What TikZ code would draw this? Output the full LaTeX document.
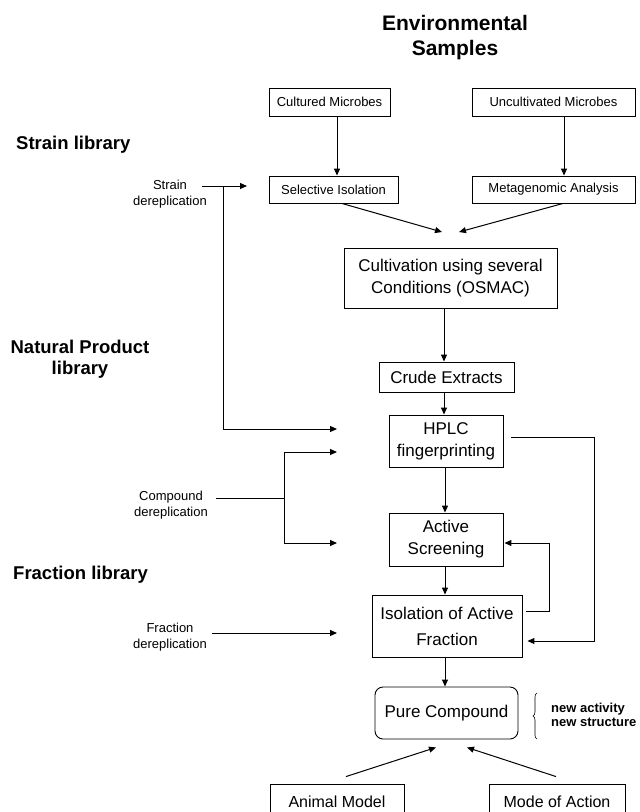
\documentclass[tikz,border=0pt]{standalone}
\usepackage{fontspec}
\setmainfont{Liberation Sans}
\usetikzlibrary{arrows.meta,decorations.pathreplacing,calc}
\newcommand{\fntttl}{\fontsize{21}{25}\selectfont\bfseries}
\newcommand{\fntlab}{\fontsize{18.5}{21}\selectfont\bfseries}
\newcommand{\fntsm}{\fontsize{13}{16}\selectfont}
\newcommand{\fntbig}{\fontsize{17}{22}\selectfont}
\newcommand{\fntmid}{\fontsize{16}{20}\selectfont}
\newcommand{\fntnote}{\fontsize{13}{14}\selectfont\bfseries}

\begin{document}
\begin{tikzpicture}[x=1pt,y=-1pt,>={Triangle[length=7pt,width=6pt]},
    box/.style={draw=black,line width=0.9pt,align=center},
    flow/.style={->,line width=1pt}]
                  \tikzstyle{every node}+=[inner sep=0pt]
                  \useasboundingbox (0,0) rectangle (640,812);
                  \clip (0,0) rectangle (640,812);
                  \node[font=\fntttl,align=center] (title) at (455,37.5) {Environmental\\Samples};
                  \node[font=\fntlab,anchor=west] (strlib) at (16,145) {Strain library};
                  \node[font=\fntlab,align=center] (nplib) at (80,359.5) {Natural Product\\library};
                  \node[font=\fntlab,anchor=west] (frlib) at (13,575) {Fraction library};
                  \node[font=\fntsm,align=center] (strder) at (170,194) {Strain\\dereplication};
                  \node[font=\fntsm,align=center] (cmpder) at (171,505) {Compound\\dereplication};
                  \node[font=\fntsm,align=center] (frder) at (170,637) {Fraction\\dereplication};
                  \node[box,font=\fntsm,minimum width=121,minimum height=28] (cult) at (329.5,102) {Cultured Microbes};
                  \node[box,font=\fntsm,minimum width=163,minimum height=28] (uncult) at (553.5,102) {Uncultivated Microbes};
                  \node[box,font=\fntsm,minimum width=129,minimum height=27] (sel) at (333.5,189.5) {Selective Isolation};
                  \node[box,font=\fntsm,minimum width=163,minimum height=27] (meta) at (553.5,189.5) {Metagenomic Analysis};
                  \node[box,font=\fntbig,minimum width=213,minimum height=60] (cultiv) at (450.5,278) {Cultivation using several\\Conditions (OSMAC)};
                  \node[box,font=\fntbig,minimum width=135,minimum height=30] (crude) at (446.5,377) {Crude Extracts};
                  \node[box,font=\fntbig,minimum width=114,minimum height=52] (hplc) at (446,441) {HPLC\\fingerprinting};
                  \node[box,font=\fntbig,minimum width=114,minimum height=53] (screen) at (446,539.5) {Active\\Screening};
                  \node[box,font=\fntbig,minimum width=150,minimum height=62] (isol) at (447,626) {Isolation of Active\\[4pt]Fraction};
                  \node[box,font=\fntbig,rounded corners=8pt,minimum width=143,minimum height=52] (pure) at (446.5,713) {Pure Compound};
                  \node[box,font=\fntmid,minimum width=134,minimum height=36] (animal) at (337,802) {Animal Model};
                  \node[box,font=\fntmid,minimum width=136,minimum height=36] (mode) at (557,802) {Mode of Action};
                  \node[font=\fntnote,align=left,anchor=west] (newinfo) at (551,715) {new activity\\new structure};
                  \draw[line width=0.6pt,decorate,decoration={brace,amplitude=4pt}] ($(newinfo.west)+(-14,24)$) -- ($(newinfo.west)+(-14,-22)$);
                  \draw[flow] ([xshift=7.5]cult.south) -- ([xshift=3.5]sel.north);
                  \draw[flow] ([xshift=10.5]uncult.south) -- ([xshift=10.5]meta.north);
                  \coordinate (jl) at (442,232);
                  \coordinate (jr) at (459,232);
                  \draw[flow] ([xshift=8.5]sel.south) -- (jl);
                  \draw[flow] ([xshift=9.5]meta.south) -- (jr);
                  \draw[flow] ([xshift=-6.5]cultiv.south) -- ([xshift=-2.5]crude.north);
                  \draw[flow] ([xshift=-2.5]crude.south) -- ([xshift=-2]hplc.north);
                  \draw[flow] ([xshift=-1]hplc.south) -- ([xshift=-1]screen.north);
                  \draw[flow] ([xshift=-1]screen.south) -- ([xshift=-2]isol.north);
                  \draw[flow] ([xshift=-2]isol.south) -- ([xshift=-1.5]pure.north);
                  \draw[flow] ($(animal.north)+(9,-7)$) -- ($(pure.south)+(-10.5,8)$);
                  \draw[flow] ($(mode.north)+(-1,-7)$) -- ($(pure.south)+(20.5,8)$);
                  \coordinate (strS) at (202,186);
                  \coordinate (strJ) at (223,186);
                  \coordinate (strE) at (247,186);
                  \coordinate (hplcS) at (337,429);
                  \draw[flow] (strS) -- (strE);
                  \draw[flow] (strJ) |- (hplcS);
                  \coordinate (cmpS) at (216,498);
                  \coordinate (cmpJ) at (284,498);
                  \coordinate (hplcC) at (337,452);
                  \coordinate (scrC) at (337,543);
                  \draw[line width=1pt] (cmpS) -- (cmpJ);
                  \draw[flow] (cmpJ) |- (hplcC);
                  \draw[flow] (cmpJ) |- (scrC);
                  \coordinate (frS) at (212,633);
                  \coordinate (isolF) at (337,633);
                  \draw[flow] (frS) -- (isolF);
                  \draw[flow] ($(hplc.east)+(8,-4)$) -- ++(83,0) |- ($(isol.east)+(5,15)$);
                  \draw[flow] ($(isol.east)+(4,-15)$) -- ++(23,0) |- ($(screen.east)+(1,3.5)$);
\end{tikzpicture}
\end{document}
